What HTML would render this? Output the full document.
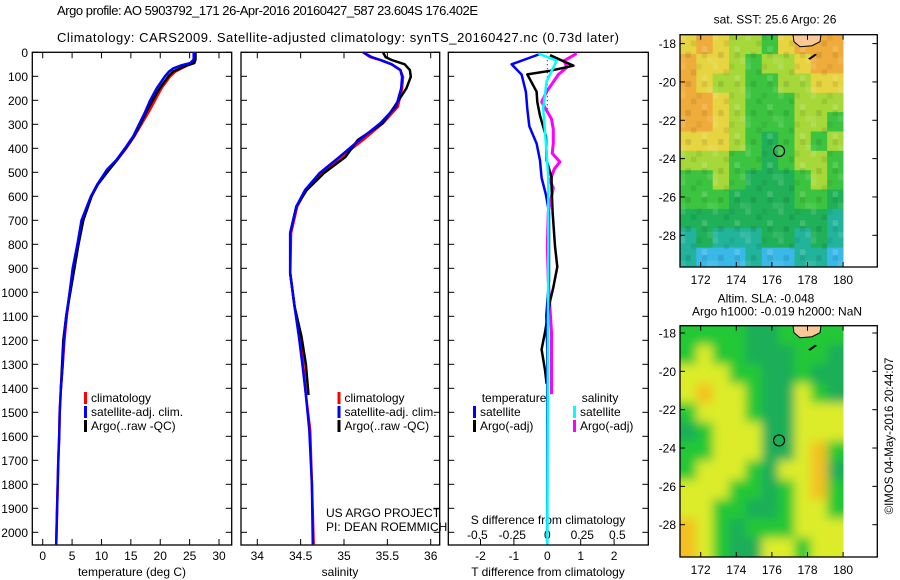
<!DOCTYPE html>
<html><head><meta charset="utf-8"><style>
html,body{margin:0;padding:0;background:#fff;}
svg{display:block;font-family:"Liberation Sans",sans-serif;}
</style></head><body>
<svg id="fig" width="900" height="580" viewBox="0 0 900 580" xmlns="http://www.w3.org/2000/svg">
<defs>
<pattern id="noise" x="680" y="34.7" width="32.7" height="29" patternUnits="userSpaceOnUse">
<rect x="0" y="0" width="5.45" height="5.8" fill="#fff" opacity="0.12"/>
<rect x="10.9" y="5.8" width="5.45" height="5.8" fill="#000" opacity="0.08"/>
<rect x="21.8" y="11.6" width="5.45" height="5.8" fill="#fff" opacity="0.15"/>
<rect x="5.45" y="17.4" width="5.45" height="5.8" fill="#000" opacity="0.1"/>
<rect x="27.25" y="23.2" width="5.45" height="5.8" fill="#fff" opacity="0.1"/>
<rect x="16.35" y="0" width="5.45" height="5.8" fill="#000" opacity="0.06"/>
<rect x="0" y="23.2" width="5.45" height="5.8" fill="#fff" opacity="0.08"/>
<rect x="21.8" y="17.4" width="5.45" height="5.8" fill="#000" opacity="0.08"/>
</pattern>
</defs>
<rect width="900" height="580" fill="#fff"/>
<text x="57" y="15" font-size="13" textLength="421">Argo profile: AO 5903792_171 26-Apr-2016 20160427_587 23.604S 176.402E</text>
<text x="57" y="42" font-size="13" textLength="562">Climatology: CARS2009. Satellite-adjusted climatology: synTS_20160427.nc (0.73d later)</text>
<g id="g1"></g>
<g id="g2"></g>
<g id="g3"></g>
<g id="m1"></g>
<g id="m2"></g>
<text transform="translate(893,436) rotate(-90)" text-anchor="middle" font-size="11.5">©IMOS 04-May-2016 20:44:07</text>
</svg>
<script>
// ---- data ----
const depthTicks=[0,100,200,300,400,500,600,700,800,900,1000,1100,1200,1300,1400,1500,1600,1700,1800,1900,2000];
const tDepth=[0,30,45,55,67,80,100,150,200,250,300,350,400,450,490,550,600,700,800,900,1000,1100,1200,1300,1400,1500,1600,1700,1800,1900,2000,2050];
const tClim=[25.9,25.9,25.6,24.6,23.6,22.6,21.7,20.2,19.1,18.0,16.8,15.6,14.2,12.6,11.0,9.3,8.3,6.8,6.0,5.2,4.6,4.1,3.7,3.4,3.1,2.9,2.8,2.65,2.55,2.45,2.35,2.3];
const tSat=[25.7,25.7,25.1,23.5,22.2,21.5,20.8,19.4,18.3,17.4,16.4,15.4,14.0,12.5,10.9,9.3,8.2,6.6,5.9,5.1,4.6,4.0,3.6,3.4,3.1,2.9,2.8,2.65,2.55,2.45,2.35,2.3];
const tArgoDepth=[0,30,45,55,67,80,100,150,200,250,300,350,400,450,490,550,600,700,800,900,1000,1100,1200,1300,1400];
const tArgo=[26.0,26.0,25.8,24.5,23.4,22.2,21.4,19.9,18.7,17.6,16.6,15.5,14.1,12.6,11.3,9.4,8.3,6.9,6.1,5.4,4.7,4.0,3.5,3.3,3.1];
const tTicks=[0,5,10,15,20,25,30];
const sDepth=[0,20,32,50,74,102,150,227,295,365,435,503,574,643,753,920,1060,1185,1300,1428,1574,1800,2050];
const sClim=[35.22,35.30,35.42,35.55,35.65,35.68,35.67,35.62,35.45,35.22,34.97,34.74,34.56,34.46,34.39,34.38,34.43,34.49,34.53,34.56,34.61,34.63,34.65];
const sSat=[35.22,35.32,35.42,35.55,35.65,35.67,35.66,35.60,35.42,35.18,34.95,34.72,34.55,34.45,34.38,34.38,34.43,34.48,34.52,34.56,34.60,34.63,34.64];
const sArgoDepth=[0,20,32,50,74,102,150,227,295,365,435,503,574,643,753,920,1060,1185,1300,1428];
const sArgo=[35.45,35.48,35.55,35.70,35.76,35.77,35.72,35.58,35.45,35.16,35.02,34.77,34.57,34.45,34.38,34.38,34.43,34.51,34.56,34.59];
const sTicks=[34,34.5,35,35.5,36];
const sTickLabels=["34","34.5","35","35.5","36"];
const dTSatDepth=[7,50,93,165,236,308,380,451,523,595,666,953,1096,1240,2050];
const dTSat=[-0.22,-1.07,-0.77,-0.64,-0.6,-0.54,-0.32,-0.22,-0.17,-0.04,0.05,0.05,-0.03,0,0];
const dTArgoDepth=[12,56,77,92,164,207,264,350,450,522,565,665,808,894,980,1038,1167,1238,1324,1381];
const dTArgo=[0.08,0.78,0.08,-0.6,-0.32,-0.3,-0.22,-0.04,-0.02,0.13,0.13,0.16,0.23,0.3,0.18,0.08,-0.07,-0.17,-0.07,-0.02];
const dSSatDepth=[5,35,63,121,235,379,522,800,2050];
const dSSat=[-0.064,0.067,0.043,-0.005,-0.029,-0.01,0.007,0.007,0];
const dSArgoDepth=[5,35,63,92,164,207,278,321,379,421,457,486,536,565,665,808,951,1167,1310,1424];
const dSArgo=[0.21,0.12,0.14,0.08,-0.005,-0.04,0.03,0.043,0.043,0.035,0.09,0.05,0.02,0.043,0.007,0,0.007,0.03,0.03,0.03];
const dTTicks=[-2,-1,0,1,2];
const dSTicks=[-0.5,-0.25,0,0.25,0.5];
const dSTickLabels=["-0.5","-0.25","0","0.25","0.5"];
const latTicks=[18,20,22,24,26,28];
const lonTicks=[172,174,176,178,180];
const argoLon=176.402, argoLat=23.604;
const sstGrid=["YOYLLGYOOO","OYYLGLLYOO","OYLLGGLLYY","OOYLGGGLLL","OOYLGGGLLG","YYYLGDGLGL","LLLGGDGLLG","GGLGDDDGLG","GGGDDDDGGD","DDDDDDDDDT","TDTTTDDTDT","TCCCTCCTTC"];
const slaGrid=["GGGGDDGGGG","GYGGDDDGGD","YYYGGDDGDD","YOYYGDDYGD","GYYYGDDYYY","DGYYYDDYYY","GGYYYDDYOG","GYYYGDYYOD","YYYGGDGYOG","YYGGDDGYYG","OYGDGGGYYY","OYGDDYYGYY"];

// ---- helpers ----
const NS="http://www.w3.org/2000/svg";
function mk(parent,tag,attrs,txt){const e=document.createElementNS(NS,tag);for(const k in attrs)e.setAttribute(k,attrs[k]);if(txt!==undefined)e.textContent=txt;parent.appendChild(e);return e;}
const Y0=52.3, PXD=0.24;
function yD(d){return Y0+d*PXD;}
const TOP=52.3, BOT=545;

function frame(g,x0,x1){
  const r=mk(g,'rect',{x:x0,y:TOP,width:x1-x0,height:BOT-TOP,fill:'none',stroke:'#000','stroke-width':1.3});
  
  
  depthTicks.forEach(d=>{
    const y=yD(d);
    const a=mk(g,'line',{x1:x0,x2:x0+6,y1:y,y2:y,stroke:'#000','stroke-width':1});
    
    
    const b=mk(g,'line',{x1:x1-6,x2:x1,y1:y,y2:y,stroke:'#000','stroke-width':1});
    
    
  });
}
function xTicks(g,vals,labels,xf,ly,top){
  vals.forEach((v,i)=>{
    const x=xf(v);
    const t=mk(g,'line',{x1:x,x2:x,y1:BOT-6,y2:BOT,stroke:'#000','stroke-width':1});
    
    
    if(top){const t2=mk(g,'line',{x1:x,x2:x,y1:TOP,y2:TOP+6,stroke:'#000','stroke-width':1});
      
      }
    const l=mk(g,'text',{x:x,y:ly,'text-anchor':'middle','font-size':12},labels[i]);
    
    
  });
}
function series(g,depths,vals,xf,color,w,name){
  const pts=depths.map((d,i)=>xf(vals[i]).toFixed(1)+','+yD(d).toFixed(1)).join(' ');
  const p=mk(g,'polyline',{points:pts,fill:'none',stroke:color,'stroke-width':w,'stroke-linejoin':'round'});
  
  
}
function legend(g,x,y,color,label,name){
  const m=mk(g,'rect',{x:x,y:y-10,width:3,height:12,fill:color});
  
  
  const t=mk(g,'text',{x:x+7,y:y,'font-size':12},label);
  
  
}

// ---- panel 1: temperature ----
const g1=document.getElementById('g1');
const xT=v=>42.7+v*5.877;
frame(g1,32.3,231.7);
depthTicks.forEach(d=>{
  const l=mk(g1,'text',{x:28,y:yD(d)+4.5,'text-anchor':'end','font-size':12},String(d));
  
  
});
xTicks(g1,tTicks,tTicks.map(String),xT,560,true);
const xl1=mk(g1,'text',{x:132,y:576,'text-anchor':'middle','font-size':12},'temperature (deg C)');


series(g1,tDepth,tClim,xT,'#f00',2.5,'temperature-climatology-line');
series(g1,tArgoDepth,tArgo,xT,'#000',2.5,'temperature-argo-line');
series(g1,tDepth,tSat,xT,'#00f',2.5,'temperature-satellite-line');
legend(g1,84,402,'#f00','climatology','legend-climatology');
legend(g1,84,416,'#00f','satellite-adj. clim.','legend-satellite');
legend(g1,84,430,'#000','Argo(..raw -QC)','legend-argo');

// ---- panel 2: salinity ----
const g2=document.getElementById('g2');
const xS=v=>257.3+(v-34)*86.7;
frame(g2,241,439.7);
xTicks(g2,sTicks,sTickLabels,xS,560,true);
const xl2=mk(g2,'text',{x:340,y:576,'text-anchor':'middle','font-size':12},'salinity');


series(g2,sDepth,sClim,xS,'#f00',2.5,'salinity-climatology-line');
series(g2,sArgoDepth,sArgo,xS,'#000',2.5,'salinity-argo-line');
series(g2,sDepth,sSat,xS,'#00f',2.5,'salinity-satellite-line');
legend(g2,337.5,402,'#f00','climatology','legend-climatology');
legend(g2,337.5,416,'#00f','satellite-adj. clim.','legend-satellite');
legend(g2,337.5,430,'#000','Argo(..raw -QC)','legend-argo');
const pr1=mk(g2,'text',{x:326,y:517,'font-size':12},'US ARGO PROJECT');


const pr2=mk(g2,'text',{x:326,y:531,'font-size':12},'PI: DEAN ROEMMICH');



// ---- panel 3: differences ----
const g3=document.getElementById('g3');
const xDT=v=>547.3+v*33.4;
const xDS=v=>547.3+v*140;
frame(g3,448.3,648.3);
xTicks(g3,dTTicks,dTTicks.map(String),xDT,560,false);
dSTicks.forEach((v,i)=>{
  const l=mk(g3,'text',{x:xDS(v),y:539,'text-anchor':'middle','font-size':12},dSTickLabels[i]);
  
  
});
const sdt=mk(g3,'text',{x:548,y:524,'text-anchor':'middle','font-size':12},'S difference from climatology');


const tdt=mk(g3,'text',{x:548,y:576,'text-anchor':'middle','font-size':12},'T difference from climatology');


const zl=mk(g3,'line',{x1:xDT(0),x2:xDT(0),y1:yD(0),y2:yD(260),stroke:'#000','stroke-width':1,'stroke-dasharray':'1,3'});


series(g3,dSArgoDepth,dSArgo,xDS,'#f0f',3,'salinity-argo-diff-line');
series(g3,dTArgoDepth,dTArgo,xDT,'#000',2.5,'temperature-argo-diff-line');
series(g3,dTSatDepth,dTSat,xDT,'#00f',2.5,'temperature-satellite-diff-line');
series(g3,dSSatDepth,dSSat,xDS,'#0ff',2.5,'salinity-satellite-diff-line');
const lt=mk(g3,'text',{x:481.7,y:402,'font-size':12},'temperature');


const ls=mk(g3,'text',{x:581.7,y:402,'font-size':12},'salinity');


legend(g3,473,416,'#00f','satellite','legend-t-satellite');
legend(g3,473,430,'#000','Argo(-adj)','legend-t-argo');
legend(g3,573,416,'#0ff','satellite','legend-s-satellite');
legend(g3,573,430,'#f0f','Argo(-adj)','legend-s-argo');

// ---- maps ----
const sstCol={O:'#f0ac3a',Y:'#e6d440',L:'#a6d83a',G:'#3cc440',D:'#20b058',T:'#22b49a',C:'#3ab8e8'};
const slaCol={G:'#22c836',D:'#1eae58',Y:'#dcec2c',O:'#f4c020'};
function map(id,top,bot,lat18y,grid,cols,blur,title1,title2){
  const g=document.getElementById(id);
  const x0=680,x1=877.3,dx1=843.5;
  const xL=lon=>700.7+(lon-172)*17.8;
  const yL=lat=>lat18y+(lat-18)*19.17;
  const cid='clip'+id;
  const cp=mk(g,'clipPath',{id:cid});
  mk(cp,'rect',{x:x0,y:top,width:dx1-x0,height:bot-top});
  const cg=mk(g,'g',{'clip-path':'url(#'+cid+')'});
  if(blur){const f=mk(g,'filter',{id:'blur'+id,x:'-10%',y:'-10%',width:'120%',height:'120%'});mk(f,'feGaussianBlur',{stdDeviation:5});}
  const ig=mk(cg,'g',blur?{filter:'url(#blur'+id+')'}:{});
  const cw=(dx1-x0)/10, ch=(bot-top)/12;
  grid.forEach((row,r)=>{[...row].forEach((c,k)=>{
    const ex=blur?12:0;
    const cell=mk(ig,'rect',{x:x0+k*cw-(k==0?ex:0),y:top+r*ch-(r==0?ex:0),width:cw+0.6+(k==0||k==9?ex:0),height:ch+0.6+(r==0||r==11?ex:0),fill:cols[c]});
    
    
  });});
  if(!blur){const nz=mk(cg,'rect',{x:x0,y:top,width:dx1-x0,height:bot-top,fill:'url(#noise)'});
    
    }
  const land=mk(cg,'path',{d:`M793,${top} L821,${top} L820,${top+7} L812,${top+11} L800,${top+12} L794,${top+7} Z`,fill:'#f8c898',stroke:'#000','stroke-width':1});
  
  
  const isl=mk(cg,'path',{d:`M808,${top+24} L815,${top+19} L817,${top+20} L810,${top+25} Z`,fill:'#000'});
  
  
  const fr=mk(g,'rect',{x:x0,y:top,width:x1-x0,height:bot-top,fill:'none',stroke:'#000','stroke-width':1.3});
  
  
  latTicks.forEach(lat=>{
    const y=yL(lat);
    mk(g,'line',{x1:x0,x2:x0+5,y1:y,y2:y,stroke:'#000'});
    mk(g,'line',{x1:x1-5,x2:x1,y1:y,y2:y,stroke:'#000'});
    const l=mk(g,'text',{x:676,y:y+4.5,'text-anchor':'end','font-size':12},'-'+lat);
    
    
  });
  lonTicks.forEach(lon=>{
    const x=xL(lon);
    mk(g,'line',{x1:x,x2:x,y1:top,y2:top+5,stroke:'#000'});
    mk(g,'line',{x1:x,x2:x,y1:bot-5,y2:bot,stroke:'#000'});
    const l=mk(g,'text',{x:x,y:bot+17,'text-anchor':'middle','font-size':12},String(lon));
    
    
  });
  const c=mk(g,'circle',{cx:xL(argoLon),cy:yL(argoLat),r:5.5,fill:'none',stroke:'#000','stroke-width':1.2});
  
  
  const t1=mk(g,'text',{x:title2?766:775,y:title2?top-23:top-11,'text-anchor':'middle','font-size':12},title1);
  
  
  if(title2){const t2=mk(g,'text',{x:777,y:top-10,'text-anchor':'middle','font-size':12},title2);
    
    }
}
map('m1',34.7,267,43.6,sstGrid,sstCol,false,'sat. SST: 25.6 Argo: 26',null);
map('m2',325.7,557,333,slaGrid,slaCol,true,'Altim. SLA: -0.048','Argo h1000: -0.019 h2000: NaN');
</script>
</body></html>
